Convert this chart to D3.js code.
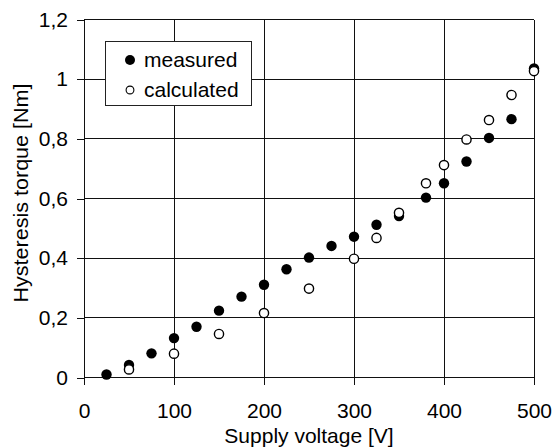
<!DOCTYPE html>
<html lang="en">
<head>
    <meta charset="UTF-8">
    <title>Hysteresis torque vs supply voltage</title>
    <script src="https://d3js.org/d3.v7.min.js"></script>
    <style>
        body { margin: 0; background: #fff; }
        svg text { font-family: "Liberation Sans", Arial, sans-serif; fill: #000; }
        .axis path { display: none; }
        .axis line { stroke: #111; shape-rendering: crispEdges; }
        .axis text { font-size: 21px; }
        .grid line { stroke: #111; shape-rendering: crispEdges; }
    </style>
</head>
<body>
    <div id="chart"></div>

    <script>
        // Data
        const measuredV = [25, 50, 75, 100, 125, 150, 175, 200, 225, 250, 275, 300, 325, 350, 380, 400, 425, 450, 475, 500];
        const measuredT = [0.01, 0.042, 0.081, 0.132, 0.17, 0.224, 0.271, 0.311, 0.363, 0.402, 0.441, 0.472, 0.512, 0.541, 0.603, 0.651, 0.724, 0.803, 0.866, 1.036];
        const calculatedV = [50, 100, 150, 200, 250, 300, 325, 350, 380, 400, 425, 450, 475, 500];
        const calculatedT = [0.027, 0.08, 0.146, 0.216, 0.298, 0.398, 0.468, 0.552, 0.651, 0.712, 0.798, 0.863, 0.947, 1.027];
        const xTicks = [0, 100, 200, 300, 400, 500];
        const yTicks = [0, 0.2, 0.4, 0.6, 0.8, 1, 1.2];

        const W = 554, H = 448;
        const plot = { left: 84, right: 534, top: 19.5, bottom: 377.5 };

        const svg = d3.select("#chart")
            .append("svg")
            .attr("width", W)
            .attr("height", H);

        const x = d3.scaleLinear().domain([0, 500]).range([plot.left, plot.right]);
        const y = d3.scaleLinear().domain([0, 1.2]).range([plot.bottom, plot.top]);

        const fmt = d => String(+d.toFixed(1)).replace(".", ",");

        // Grid
        svg.append("g").attr("class", "grid")
            .selectAll("line").data(yTicks).enter().append("line")
            .attr("x1", plot.left).attr("x2", plot.right)
            .attr("y1", d => y(d)).attr("y2", d => y(d));
        svg.append("g").attr("class", "grid")
            .selectAll("line").data(xTicks).enter().append("line")
            .attr("x1", d => x(d)).attr("x2", d => x(d))
            .attr("y1", plot.top).attr("y2", plot.bottom);

        // Axes
        svg.append("g")
            .attr("class", "axis")
            .attr("transform", `translate(${plot.left},0)`)
            .call(d3.axisLeft(y).tickValues(yTicks).tickFormat(fmt).tickSizeInner(7).tickSizeOuter(0).tickPadding(9));

        svg.append("g")
            .attr("class", "axis")
            .attr("transform", `translate(0,${plot.bottom})`)
            .call(d3.axisBottom(x).tickValues(xTicks).tickFormat(d3.format("d")).tickSizeInner(7).tickSizeOuter(0).tickPadding(19));

        // Axis titles
        svg.append("text")
            .attr("x", 309)
            .attr("y", 443)
            .attr("text-anchor", "middle")
            .style("font-size", "21px")
            .text("Supply voltage [V]");

        svg.append("text")
            .attr("transform", "translate(27.5,193) rotate(-90)")
            .attr("text-anchor", "middle")
            .attr("textLength", 219)
            .attr("lengthAdjust", "spacingAndGlyphs")
            .style("font-size", "21px")
            .text("Hysteresis torque [Nm]");

        // Points
        const r = 5.2;
        svg.append("g")
            .selectAll("circle")
            .data(measuredV.map((v, i) => [v, measuredT[i]]))
            .enter().append("circle")
            .attr("cx", d => x(d[0]))
            .attr("cy", d => y(d[1]))
            .attr("r", r)
            .attr("fill", "#000");

        svg.append("g")
            .selectAll("circle")
            .data(calculatedV.map((v, i) => [v, calculatedT[i]]))
            .enter().append("circle")
            .attr("cx", d => x(d[0]))
            .attr("cy", d => y(d[1]))
            .attr("r", r - 0.6)
            .attr("fill", "#fff")
            .attr("stroke", "#000")
            .attr("stroke-width", 1.4);

        // Legend
        const legend = svg.append("g");
        legend.append("rect")
            .attr("x", 105.5).attr("y", 41.5)
            .attr("width", 146).attr("height", 64)
            .attr("fill", "#fff")
            .attr("stroke", "#222");

        const items = [
            { label: "measured", fill: "#000", stroke: "none" },
            { label: "calculated", fill: "#fff", stroke: "#000" }
        ];
        const li = legend.selectAll("g.item").data(items).enter().append("g")
            .attr("transform", (d, i) => `translate(0,${60 + i * 30})`);
        li.append("circle")
            .attr("cx", 130).attr("cy", 0)
            .attr("r", d => d.stroke === "none" ? 5 : 3.9)
            .attr("fill", d => d.fill)
            .attr("stroke", d => d.stroke)
            .attr("stroke-width", 1.1);
        li.append("text")
            .attr("x", 144).attr("y", 6.5)
            .style("font-size", "21px")
            .text(d => d.label);
    </script>
</body>
</html>
